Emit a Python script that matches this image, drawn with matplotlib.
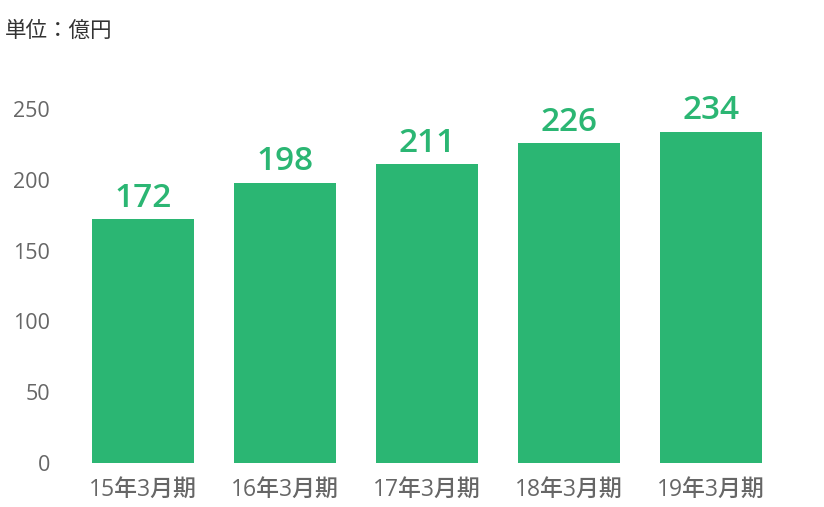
import matplotlib
matplotlib.use("Agg")
import matplotlib.pyplot as plt

categories = ["15年3月期", "16年3月期", "17年3月期", "18年3月期", "19年3月期"]
values = [172, 198, 211, 226, 234]
yticks = [0, 50, 100, 150, 200, 250]
unit_label = "単位：億円"

GREEN = "#2BB673"
GREY = "#666666"
fam = ["Open Sans", "Noto Sans CJK JP", "DejaVu Sans"]
plt.rcParams['font.family'] = fam

W, H = 824, 507
fig = plt.figure(figsize=(W / 100, H / 100), dpi=100)
x0, x1 = 72, 782
y0 = 463
ppu = 354 / 250
ymax = 280
ytop = y0 - ymax * ppu
ax = fig.add_axes([x0 / W, (H - y0) / H, (x1 - x0) / W, (y0 - ytop) / H])

xs = list(range(len(categories)))
bars = ax.bar(xs, values, width=0.72, color=GREEN)
for x, v in zip(xs, values):
    ax.annotate(str(v), (x, v), xytext=(0, 3), textcoords="offset points",
                ha="center", va="bottom", fontsize=24, color=GREEN,
                family=fam, fontweight="semibold")

ax.set_xlim(-0.5, len(categories) - 0.5)
ax.set_ylim(0, ymax)
ax.set_yticks(yticks)
ax.set_yticklabels([str(t) for t in yticks], fontsize=15.5, color=GREY,
                   fontweight="medium")
ax.set_xticks(xs)
ax.set_xticklabels(categories, fontsize=16.5, color=GREY, fontweight="medium")
ax.tick_params(axis="both", length=0)
ax.tick_params(axis="y", pad=16)
ax.tick_params(axis="x", pad=11)
for s in ax.spines.values():
    s.set_visible(False)

fig.text(5 / W, 1 - 31 / H, unit_label, fontsize=15.5, color="#333333",
         ha="left", va="center", family=["Noto Sans CJK JP", "DejaVu Sans"])

fig.savefig("out.png", dpi=100)
